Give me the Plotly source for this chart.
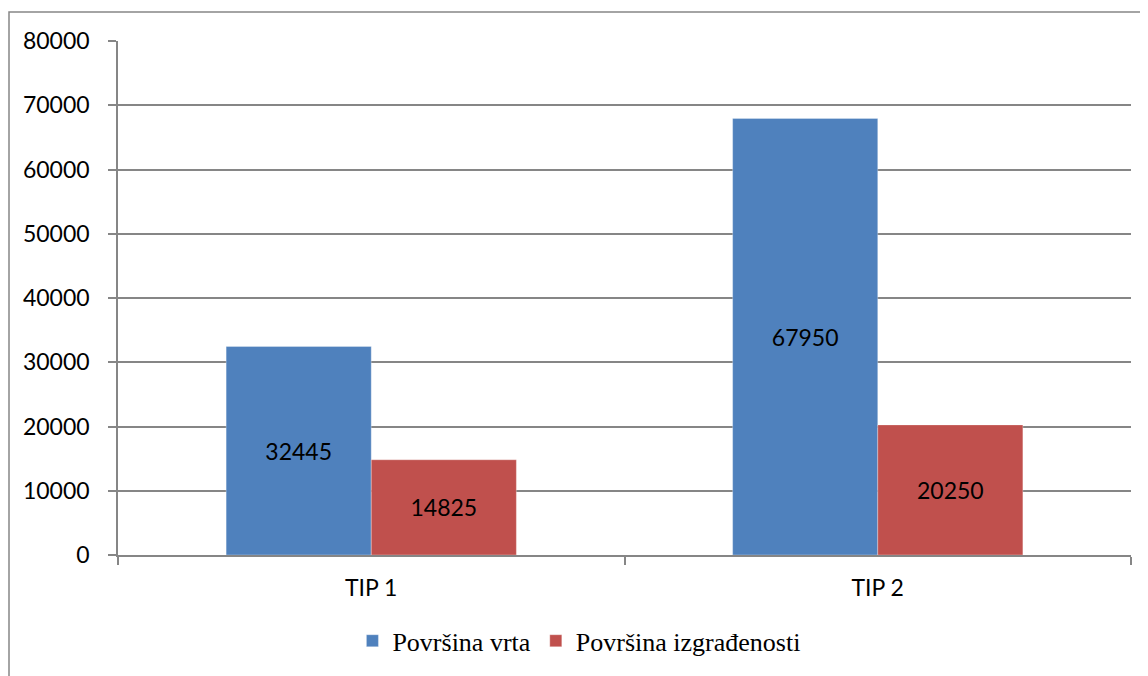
import plotly.graph_objects as go

categories = ["TIP 1", "TIP 2"]
vrt = [32445, 67950]
izgr = [14825, 20250]
series_names = ["Površina vrta", "Površina izgrađenosti"]
y_ticks = [0, 10000, 20000, 30000, 40000, 50000, 60000, 70000, 80000]

BLUE = "#4F81BD"
RED = "#C0504D"
GRID = "#868686"
SANS = "Lato, 'Open Sans', sans-serif"
SERIF = "'Liberation Serif', 'Times New Roman', serif"

fig = go.Figure()
for name, vals, col in [(series_names[0], vrt, BLUE), (series_names[1], izgr, RED)]:
    fig.add_trace(go.Bar(
        x=categories, y=vals, name=name,
        marker=dict(color=col, line=dict(color="rgba(255,255,255,0.5)", width=0.6)),
        text=[str(v) for v in vals], textposition="inside",
        insidetextanchor="middle", constraintext="none",
        textfont=dict(family=SANS, size=23, color="black"),
        hoverinfo="skip",
    ))

# page body has an 8px margin; figure sized/offset to compensate
fig.update_layout(
    width=1140, height=668,
    margin=dict(l=110, r=17, t=33, b=121),
    paper_bgcolor="white", plot_bgcolor="white",
    barmode="group", bargap=0.427, bargroupgap=0,
    showlegend=True,
    legend=dict(orientation="h", x=0.455, xanchor="center", y=-0.167, yanchor="middle",
                font=dict(family=SERIF, size=26, color="black"),
                itemwidth=30, tracegroupgap=0, traceorder="normal"),
    font=dict(family=SANS, color="black"),
)
fig.update_yaxes(
    range=[0, 80000], tickvals=y_ticks, ticktext=[str(v) for v in y_ticks],
    showgrid=True, gridcolor=GRID, gridwidth=1.5,
    showline=True, linecolor=GRID, linewidth=1.5,
    ticks="outside", ticklen=8, tickcolor=GRID, tickwidth=1.5,
    tickfont=dict(family=SANS, size=23, color="black"),
    ticklabelstandoff=14, zeroline=False,
)
fig.update_xaxes(
    showgrid=False, showline=True, linecolor=GRID, linewidth=1.5,
    ticks="outside", ticklen=8, tickcolor=GRID, tickwidth=1.5,
    tickson="boundaries",
    tickfont=dict(family=SANS, size=23, color="black"),
    ticklabelstandoff=12,
)
# outer chart frame
fig.add_shape(type="rect", xref="paper", yref="paper",
              x0=(9 - 118) / 1013, x1=1.2, y0=-0.5, y1=(555 - 12) / 514,
              line=dict(color=GRID, width=1.5), fillcolor="rgba(0,0,0,0)", layer="below")

fig.write_html("out.html")
